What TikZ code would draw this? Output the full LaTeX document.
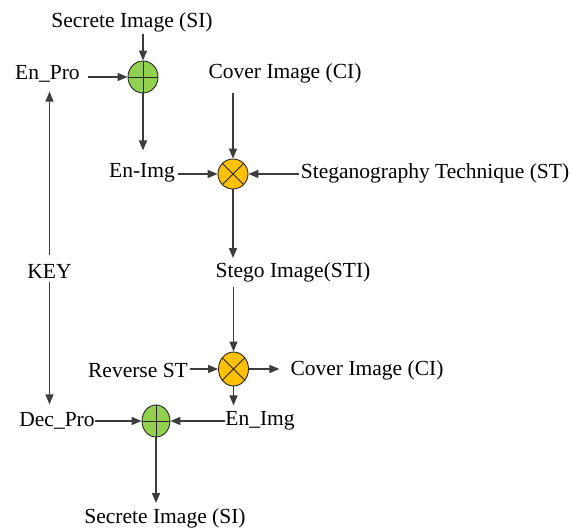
\documentclass[tikz,border=0pt]{standalone}
\usepackage{fontspec}
\setmainfont{Liberation Serif}
\usetikzlibrary{shapes.geometric,arrows.meta}
\definecolor{gfill}{HTML}{92D050}
\definecolor{ofill}{HTML}{FFC000}
\definecolor{lncol}{HTML}{3C3C3C}
\begin{document}
\begin{tikzpicture}[x=1pt,y=1pt,
  lbl/.style={inner sep=0pt,font=\fontsize{21.5}{24}\selectfont},
  plusnode/.style={ellipse,draw=black!85,line width=0.9pt,fill=gfill,minimum width=#1,minimum height=32pt,inner sep=0pt},
  crossnode/.style={ellipse,draw=black!85,line width=0.9pt,fill=ofill,minimum width=30pt,minimum height=#1,inner sep=0pt},
  arr/.style={draw=lncol,line width=1.4pt,-{Triangle[length=10pt,width=8pt]}}]
\useasboundingbox (0,0) rectangle (581,532);
% text nodes
\node[lbl] (si1) at (132,510) {Secrete Image (SI)};
\node[lbl] (enpro) at (47.5,458) {En\_Pro};
\node[lbl] (ci1) at (285,459) {Cover Image (CI)};
\node[lbl] (enimg) at (142,359) {En-Img};
\node[lbl] (st) at (435,359) {Steganography Technique (ST)};
\node[lbl] (sti) at (293,260) {Stego Image(STI)};
\node[lbl] (key) at (49.5,261) {KEY};
\node[lbl] (rst) at (138,162) {Reverse ST};
\node[lbl] (ci2) at (367,162) {Cover Image (CI)};
\node[lbl] (enimg2) at (260,111) {En\_Img};
\node[lbl] (decpro) at (57,111) {Dec\_Pro};
\node[lbl] (si2) at (165,14) {Secrete Image (SI)};
% operators
\node[plusnode=30pt] (g1) at (143,455) {};
\draw[black!85,line width=0.9pt] (g1.north) -- (g1.south) (g1.west) -- (g1.east);
\node[crossnode=30pt] (o1) at (233,358) {};
\draw[black!85,line width=0.9pt] (o1.45) -- (o1.225) (o1.135) -- (o1.315);
\node[crossnode=34pt] (o2) at (233.5,163) {};
\draw[black!85,line width=0.9pt] (o2.45) -- (o2.225) (o2.135) -- (o2.315);
\node[plusnode=28pt] (g2) at (156,111) {};
\draw[black!85,line width=0.9pt] (g2.north) -- (g2.south) (g2.west) -- (g2.east);
% connectors
\draw[arr,shorten <=2pt] (g1 |- si1.south) -- (g1.north);
\draw[arr,shorten <=8pt] (enpro.east |- g1) -- (g1.west);
\draw[arr,shorten >=13pt] (g1.south) -- (g1 |- enimg.north);
\draw[arr,shorten <=3pt] (enimg.east |- o1) -- (o1.west);
\draw[arr,shorten <=10pt] (o1 |- ci1.south) -- (o1.north);
\draw[arr,shorten <=2pt] (st.west |- o1) -- (o1.east);
\draw[arr,shorten >=4pt] (o1.south) -- (o1 |- sti.north);
\draw[arr,shorten <=5pt] (o2 |- sti.south) -- (o2.north);
\draw[arr,shorten <=2pt] (rst.east |- o2) -- (o2.west);
\draw[arr,shorten >=11pt] (o2.east) -- (ci2.west |- o2);
\draw[arr,shorten >=6pt] (o2.south) -- (o2 |- enimg2.north);
\draw[arr] (enimg2.west) -- (g2.east);
\draw[arr] (decpro.east) -- (g2.west);
\draw[arr,shorten >=5pt] (g2.south) -- (g2 |- si2.north);
\draw[arr,shorten <=9pt,shorten >=9pt] (key.north) -- (key |- enpro.south);
\draw[arr,shorten <=4pt,shorten >=8pt] (key.south) -- (key |- decpro.north);
\end{tikzpicture}
\end{document}
